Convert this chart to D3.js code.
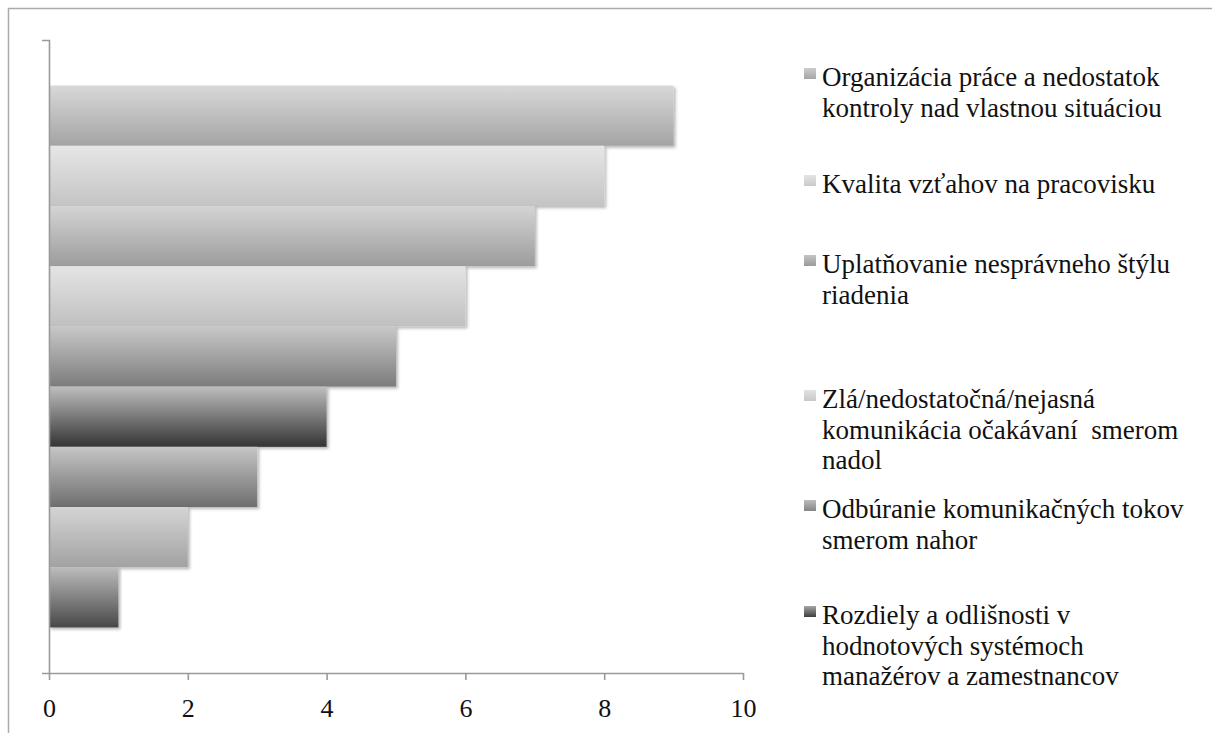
<!DOCTYPE html>
<html>
<head>
<meta charset="utf-8">
<script src="https://cdn.jsdelivr.net/npm/d3@7/dist/d3.min.js"></script>
<style>
  body { margin: 0; background: #fff; }
  svg { display: block; }
  text { font-family: "Liberation Serif", "Times New Roman", serif; fill: #111; }
</style>
</head>
<body>
<svg id="chart" width="1212" height="733"></svg>
<script>
// ---- data ----
const categories = ["A", "B", "C", "D", "E", "F", "G", "H", "I"];
const values = [9, 8, 7, 6, 5, 4, 3, 2, 1];
const legendLabels = [
  ["Organizácia práce a nedostatok", "kontroly nad vlastnou situáciou"],
  ["Kvalita vzťahov na pracovisku"],
  ["Uplatňovanie nesprávneho štýlu", "riadenia"],
  ["Zlá/nedostatočná/nejasná", "komunikácia očakávaní  smerom", "nadol"],
  ["Odbúranie komunikačných tokov", "smerom nahor"],
  ["Rozdiely a odlišnosti v", "hodnotových systémoch", "manažérov a zamestnancov"]
];
const xTicks = [0, 2, 4, 6, 8, 10];

// ---- styles ----
const barShades = [
  ["#d8d8d8", "#a4a4a4"],
  ["#e6e6e6", "#c4c4c4"],
  ["#d4d4d4", "#9c9c9c"],
  ["#e4e4e4", "#c0c0c0"],
  ["#c8c8c8", "#7c7c7c"],
  ["#bebebe", "#343434"],
  ["#c6c6c6", "#6e6e6e"],
  ["#d4d4d4", "#a2a2a2"],
  ["#bcbcbc", "#484848"]
];
const legendShades = [
  ["#cccccc", "#a6a6a6"],
  ["#e4e4e4", "#cacaca"],
  ["#c4c4c4", "#9a9a9a"],
  ["#e2e2e2", "#c8c8c8"],
  ["#bcbcbc", "#858585"],
  ["#a6a6a6", "#3e3e3e"]
];
// first-line baselines of the legend entries (layout)
const legendBaselines = [86, 193, 273, 408, 518, 624];
const legendLineHeight = 30.5;

const svg = d3.select("#chart");
const defs = svg.append("defs");

const f = defs.append("filter").attr("id", "shadow")
  .attr("x", "-5%").attr("y", "-20%").attr("width", "110%").attr("height", "150%");
f.append("feDropShadow").attr("dx", 2).attr("dy", 2).attr("stdDeviation", 1.5)
  .attr("flood-color", "#000").attr("flood-opacity", 0.28);

function addGrad(id, c) {
  const g = defs.append("linearGradient").attr("id", id)
    .attr("x1", 0).attr("y1", 0).attr("x2", 0).attr("y2", 1);
  g.append("stop").attr("offset", "0%").attr("stop-color", c[0]);
  g.append("stop").attr("offset", "100%").attr("stop-color", c[1]);
}
barShades.forEach((c, i) => addGrad("bg" + i, c));
legendShades.forEach((c, i) => addGrad("lg" + i, c));

// outer frame
svg.append("path").attr("d", "M8.5,733V8.5H1212")
  .attr("fill", "none").attr("stroke", "#ababab").attr("stroke-width", 1.5);

// scales
const x = d3.scaleLinear().domain([0, 10]).range([49, 743]);
const y = d3.scaleBand().domain(categories).range([40, 673])
  .paddingInner(0).paddingOuter(0.757);
const yLin = d3.scaleLinear().domain([0, 1]).range([673, 40]);

// bars
svg.append("g").selectAll("rect")
  .data(values)
  .join("rect")
  .attr("x", x(0))
  .attr("y", (d, i) => y(categories[i]))
  .attr("width", d => x(d) - x(0))
  .attr("height", y.bandwidth())
  .attr("fill", (d, i) => `url(#bg${i})`)
  .attr("filter", "url(#shadow)");

// y axis (line only with outer ticks)
const yAxis = svg.append("g").attr("transform", `translate(${x(0)},0)`)
  .call(d3.axisLeft(yLin).tickValues([]).tickSizeOuter(7));
yAxis.select(".domain").attr("stroke", "#9a9a9a").attr("stroke-width", 1.6);

// x axis
const xAxis = svg.append("g").attr("transform", `translate(0,${yLin(0)})`)
  .call(d3.axisBottom(x).tickValues(xTicks).tickSize(7).tickSizeOuter(0).tickPadding(19));
xAxis.select(".domain").attr("stroke", "#9a9a9a").attr("stroke-width", 1.6);
xAxis.selectAll(".tick line").attr("stroke", "#9a9a9a").attr("stroke-width", 1.6);
xAxis.selectAll(".tick text")
  .attr("font-family", "Liberation Serif, serif")
  .attr("font-size", 26).attr("fill", "#111");

// legend
const lg = svg.append("g");
legendLabels.forEach((lines, i) => {
  const b = legendBaselines[i];
  lg.append("rect").attr("x", 804).attr("y", b - 18).attr("width", 12).attr("height", 11)
    .attr("fill", `url(#lg${i})`);
  const t = lg.append("text").attr("x", 822).attr("y", b)
    .attr("font-size", 27).style("white-space", "pre");
  lines.forEach((ln, j) => {
    t.append("tspan").attr("x", 822).attr("y", b + j * legendLineHeight).text(ln);
  });
});
</script>
</body>
</html>
